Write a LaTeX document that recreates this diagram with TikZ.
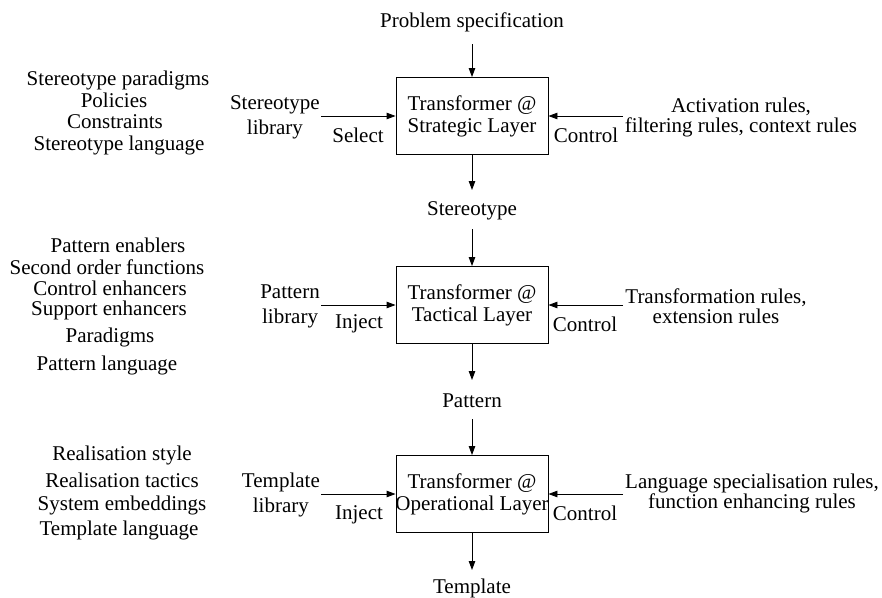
\documentclass[tikz,border=0pt]{standalone}
\usepackage{fontspec}
\setmainfont{Liberation Serif}
\usetikzlibrary{arrows.meta}
% two centred lines whose baseline is the first line's baseline
\newcommand{\linepair}[2]{\begin{tabular}[t]{@{}c@{}}#1\\#2\end{tabular}}
\begin{document}
\begin{tikzpicture}[x=1pt,y=-1pt,
  every node/.style={font=\fontsize{21}{22}\selectfont, inner sep=0pt},
  txt/.style={anchor=base},
  libtxt/.style={anchor=base east, font=\fontsize{21}{25}\selectfont},
  ruletxt/.style={anchor=base, font=\fontsize{21}{20}\selectfont},
  layerbox/.style={draw, line width=0.9pt, minimum width=152pt, minimum height=77pt},
  layertxt/.style={align=center},
  arr/.style={-{Triangle[length=9pt,width=6.5pt]}, line width=0.9pt},
  ]
\useasboundingbox (0,0) rectangle (882,597);

% ---- transformer boxes ----
\node[layerbox] (b1) at (472,116) {};
\node[layerbox] (b2) at (472,305) {};
\node[layerbox] (b3) at (472,494) {};
\node[layertxt] (t1) at (b1.center) {Transformer @\\Strategic Layer};
\node[layertxt] (t2) at (b2.center) {Transformer @\\Tactical Layer};
\node[layertxt] (t3) at (b3.center) {Transformer @\\Operational Layer};

% ---- main flow ----
\node[txt] (ps) at (472,27) {Problem specification};
\node[txt] (st) at (472,215) {Stereotype};
\node[txt] (pa) at (472,407) {Pattern};
\node[txt] (te) at (472,593) {Template};

\draw[arr] ([yshift=-17pt]ps.base) -- (b1.north);
\draw[arr] (b1.south) -- ([yshift=25pt]st.base);
\draw[arr] ([yshift=-14pt]st.base) -- (b2.north);
\draw[arr] (b2.south) -- ([yshift=27pt]pa.base);
\draw[arr] ([yshift=-12pt]pa.base) -- (b3.north);
\draw[arr] (b3.south) -- ([yshift=23pt]te.base);

% ---- libraries on the left ----
\node[libtxt] (lib1) at (320,109) {\linepair{Stereotype}{library}};
\node[libtxt] (lib2) at (320,298) {\linepair{Pattern}{library}};
\node[libtxt] (lib3) at (320,487) {\linepair{Template}{library}};
\coordinate (in1) at (321,116);
\coordinate (in2) at (321,305);
\coordinate (in3) at (321,494);
\draw[arr] (in1) -- (b1.west);
\draw[arr] (in2) -- (b2.west);
\draw[arr] (in3) -- (b3.west);
\node[txt] (sel) at (358,142) {Select};
\node[txt] (inj2) at (359,328) {Inject};
\node[txt] (inj3) at (359,519) {Inject};

% ---- rules on the right ----
\node[ruletxt] (r1) at (741,112) {\linepair{Activation rules,}{filtering rules, context rules}};
\node[ruletxt] (r2) at (716,303) {\linepair{Transformation rules,}{extension rules}};
\node[ruletxt] (r3) at (752,488) {\linepair{Language specialisation rules,}{function enhancing rules}};
\coordinate (rc1) at (623,116);
\coordinate (rc2) at (623,305);
\coordinate (rc3) at (623,494);
\draw[arr] (rc1) -- (b1.east);
\draw[arr] (rc2) -- (b2.east);
\draw[arr] (rc3) -- (b3.east);
\node[txt] (ct1) at (586,142) {Control};
\node[txt] (ct2) at (585,331) {Control};
\node[txt] (ct3) at (585,520) {Control};

% ---- vocabularies on the far left ----
\node[txt] (s1) at (118,85) {Stereotype paradigms};
\node[txt] (s2) at (114,107) {Policies};
\node[txt] (s3) at (115,128) {Constraints};
\node[txt] (s4) at (119,150) {Stereotype language};

\node[txt] (p1) at (118,252) {Pattern enablers};
\node[txt] (p2) at (107,274) {Second order functions};
\node[txt] (p3) at (110,295) {Control enhancers};
\node[txt] (p4) at (109,315) {Support enhancers};
\node[txt] (p5) at (110,342) {Paradigms};
\node[txt] (p6) at (107,370) {Pattern language};

\node[txt] (o1) at (122,460) {Realisation style};
\node[txt] (o2) at (122,487) {Realisation tactics};
\node[txt] (o3) at (122,510) {System embeddings};
\node[txt] (o4) at (119,535) {Template language};
\end{tikzpicture}
\end{document}
